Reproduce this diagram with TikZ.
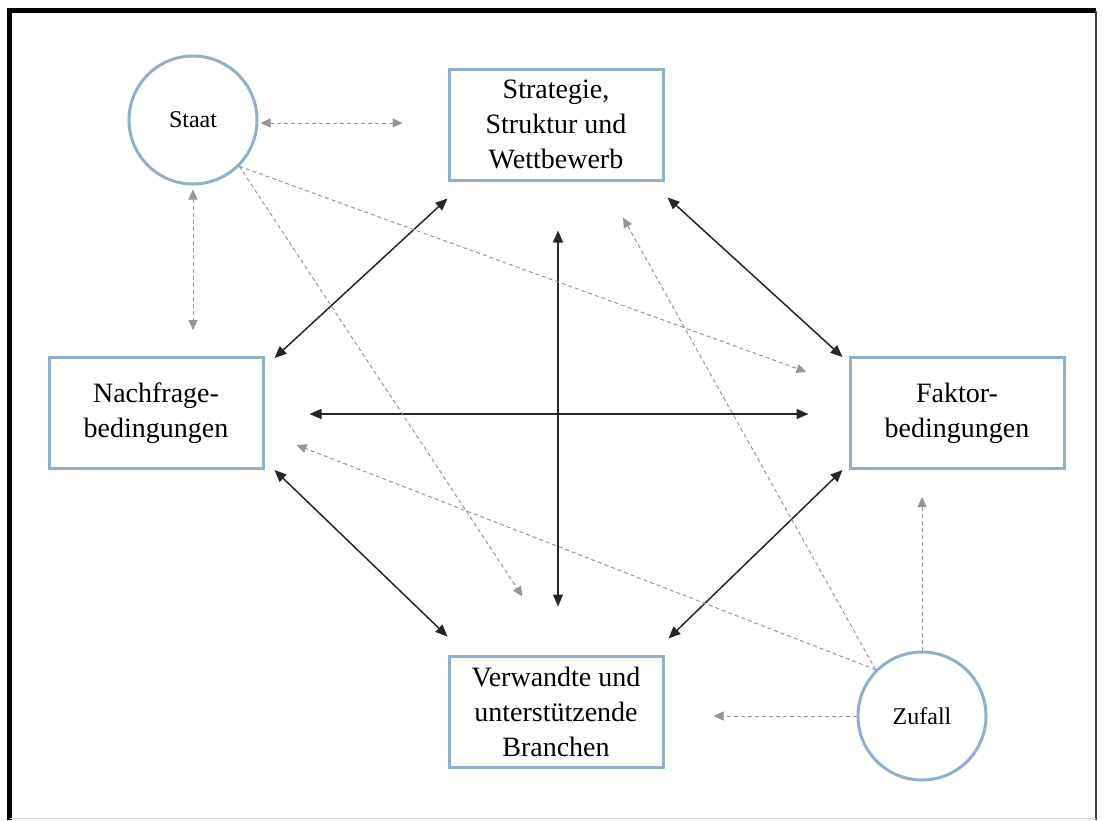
\documentclass[tikz,border=0pt]{standalone}
\usepackage{fontspec}
\setmainfont{Liberation Serif}
\usepackage{xcolor}
\usepackage{tikz}
\usetikzlibrary{shapes,arrows.meta,positioning,calc}

\definecolor{boxblue}{RGB}{143,174,214}
\definecolor{linkgray}{RGB}{150,150,150}

\begin{document}
\begin{tikzpicture}[x=0.5pt, y=-0.5pt,
    box/.style={rectangle, draw=boxblue, line width=1.5pt, minimum width=107pt, minimum height=55.5pt, inner sep=0pt, align=center, font=\fontsize{14}{17.5}\selectfont},
    circ/.style={circle, draw=boxblue, line width=1.5pt, minimum size=64pt, inner sep=0pt, font=\fontsize{12}{14}\selectfont},
    link/.style={line width=0.75pt, black!85, {Triangle[length=6pt,width=5pt]}-{Triangle[length=6pt,width=5pt]}},
    infl/.style={line width=0.5pt, linkgray, dash pattern=on 2pt off 1.5pt, -{Triangle[length=5pt,width=4.5pt]}},
    infl both/.style={infl, {Triangle[length=5pt,width=4.5pt]}-{Triangle[length=5pt,width=4.5pt]}}
]
    \useasboundingbox (0,0) rectangle (1102,820);

    % frame
    \draw[line width=2.2pt] (9.5,820) -- (9.5,10.5) -- (1096,10.5);
    \draw[line width=0.6pt, black!75] (1096,10.5) -- (1096,820);
    \draw[line width=0.5pt, black!15] (9.5,818) -- (1096,818);

    % determinants
    \node[box] (strat) at (556,124.5) {Strategie,\\Struktur und\\Wettbewerb};
    \node[box] (nach) at (156,413) {Nachfrage-\\bedingungen};
    \node[box] (fakt) at (957,413) {Faktor-\\bedingungen};
    \node[box] (verw) at (556,711.5) {Verwandte und\\unterstützende\\Branchen};

    \node[circ] (staat) at (193,120) {Staat};
    \node[circ] (zuf) at (922,716) {Zufall};

    % diamond links
    \draw[link] ($(strat.south west)+(0,17)$) -- ($(nach.north east)+(10,2)$);
    \draw[link] ($(strat.south east)+(3,16)$) -- ($(fakt.north west)+(-6,1)$);
    \draw[link] ($(nach.east)+(45,1)$) -- ($(fakt.west)+(-40,1)$);
    \draw[link] ($(strat.south)+(2,49)$) -- ($(verw.north)+(2,-48)$);
    \draw[link] ($(nach.south east)+(10,0)$) -- ($(verw.north west)+(0,-18)$);
    \draw[link] ($(fakt.south west)+(-6,0)$) -- ($(verw.north east)+(4,-16)$);

    % Staat
    \draw[infl both] ($(staat.east)+(2,3)$) -- ($(strat.west)+(-45,-1.5)$);
    \draw[infl both] ($(staat.south)+(0,4)$) -- ($(staat.south |- nach.north)+(0,-26)$);
    \draw[infl] (staat.south east) -- ($(fakt.north west)+(-42,16)$);
    \draw[infl] (staat.south east) -- ($(verw.north west)+(75,-58)$);

    % Zufall
    \draw[infl] (zuf.north west) -- ($(strat.south)+(67,36)$);
    \draw[infl] (zuf.north west) -- ($(nach.east)+(32,32)$);
    \draw[infl] (zuf.west) -- ($(verw.east)+(49,4.5)$);
    \draw[infl] (zuf.north) -- ($(zuf.north |- fakt.south)+(0,27)$);
\end{tikzpicture}
\end{document}
